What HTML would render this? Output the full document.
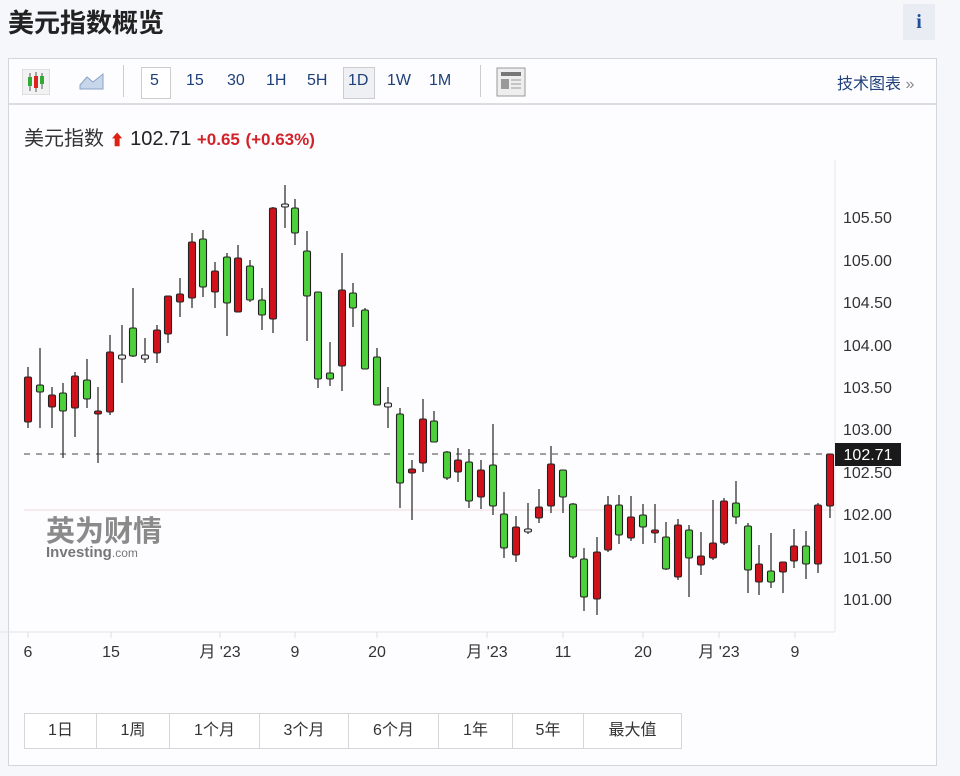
<!DOCTYPE html>
<html><head><meta charset="utf-8"><style>
body{margin:0;width:960px;height:776px;background:#f6f7fb;font-family:"Liberation Sans","Noto Sans CJK SC",sans-serif;overflow:hidden;position:relative}
.t{position:absolute;left:8px;top:3px;font-size:26px;font-weight:bold;color:#222}
.i{position:absolute;left:903px;top:4px;width:32px;height:36px;background:#e9ecf2;color:#1e4f9c;font:bold 20px "Liberation Serif",serif;text-align:center;line-height:36px}
.panel{position:absolute;left:8px;top:58px;width:927px;height:706px;border:1px solid #d4d6da;background:#fdfdff}
.tb{position:absolute;left:0;top:0;width:927px;height:44px;border-bottom:2px solid #dcdde0;background:#fdfdff}
.tb span{position:absolute;top:12px;font-size:16px;color:#1e3f7a}
.btns{position:absolute;left:15px;top:654px;display:flex;border:1px solid #d6d6d6;background:#fff}
.btns div{height:34px;line-height:34px;text-align:center;font-size:16px;color:#333;border-right:1px solid #d6d6d6}
</style></head><body>
<div class="t">美元指数概览</div>
<div class="i">i</div>
<div class="panel">
<div class="tb">
<svg style="position:absolute;left:13px;top:10px" width="28" height="26"><rect x="0" y="0" width="28" height="26" fill="#f2f2f2" stroke="#ccc"/><line x1="8" y1="4" x2="8" y2="22" stroke="#555"/><rect x="6" y="8" width="4" height="9" fill="#3a3"/><line x1="14" y1="3" x2="14" y2="23" stroke="#555"/><rect x="12" y="7" width="4" height="12" fill="#d22"/><line x1="20" y1="4" x2="20" y2="20" stroke="#555"/><rect x="18" y="7" width="4" height="8" fill="#3a3"/></svg>
<svg style="position:absolute;left:70px;top:12px" width="26" height="20"><path d="M1 18 L1 14 L8 6 L14 11 L24 3 L24 18Z" fill="#c7d6ea" stroke="#8aa3c6"/></svg>
<div style="position:absolute;left:114px;top:6px;width:1px;height:32px;background:#ccc"></div>
<div style="position:absolute;left:132px;top:8px;width:28px;height:30px;border:1px solid #ccc;background:#fff"></div>
<span style="left:141px;top:13px">5</span><span style="left:177px;top:13px">15</span><span style="left:218px;top:13px">30</span><span style="left:257px;top:13px">1H</span><span style="left:298px;top:13px">5H</span>
<div style="position:absolute;left:334px;top:8px;width:30px;height:30px;border:1px solid #ccc;background:#eef0f3"></div>
<span style="left:339px;top:13px">1D</span><span style="left:378px;top:13px">1W</span><span style="left:420px;top:13px">1M</span>
<div style="position:absolute;left:471px;top:6px;width:1px;height:32px;background:#ccc"></div>
<svg style="position:absolute;left:487px;top:8px" width="30" height="30"><rect x="1" y="1" width="28" height="28" fill="#eee" stroke="#999"/><rect x="5" y="5" width="20" height="4" fill="#777"/><rect x="5" y="12" width="8" height="10" fill="#999"/><line x1="15" y1="13" x2="25" y2="13" stroke="#999"/><line x1="15" y1="17" x2="25" y2="17" stroke="#999"/><line x1="15" y1="21" x2="25" y2="21" stroke="#999"/></svg>
<span style="left:828px;top:11px;color:#1e3f7a">技术图表 <span style="position:static;color:#888">»</span></span>
</div>
<div style="position:absolute;left:15px;top:63px;font-size:20px;color:#333">美元指数 <span style="color:#d21;font-size:15px">⬆</span> <span style="color:#222">102.71</span> <span style="color:#d2232a;font-size:17px;font-weight:bold">+0.65</span> <span style="color:#d2232a;font-size:17px;font-weight:bold">(+0.63%)</span></div>
<div class="btns"><div style="width:71px">1日</div><div style="width:72px">1周</div><div style="width:89px">1个月</div><div style="width:88px">3个月</div><div style="width:89px">6个月</div><div style="width:73px">1年</div><div style="width:70px">5年</div><div style="width:97px;border:none">最大值</div></div>
</div>
<svg id="c" style="position:absolute;left:0;top:0" width="960" height="776"></svg>
<script>
var s='';
s+='<line x1="0" y1="632" x2="835" y2="632" stroke="#e4e4e4"/>';
s+='<line x1="835" y1="160" x2="835" y2="632" stroke="#e8e8e8"/>';
s+='<line x1="24" y1="510" x2="835" y2="510" stroke="#f0dcdc"/>';
var yl=[[105.5,217],[105,260],[104.5,302],[104,345],[103.5,387],[103,429],[102.5,472],[102,514],[101.5,557],[101,599]];
yl.forEach(function(a){s+='<text x="843" y="'+(a[1]+6)+'" font-size="16" fill="#333" font-family="Liberation Sans">'+a[0].toFixed(2)+'</text>';});
var xl=[[28,'6'],[111,'15'],[220,'月 \'23'],[295,'9'],[377,'20'],[487,'月 \'23'],[563,'11'],[643,'20'],[719,'月 \'23'],[795,'9']];
xl.forEach(function(a){s+='<line x1="'+a[0]+'" y1="632" x2="'+a[0]+'" y2="638" stroke="#ddd"/><text x="'+a[0]+'" y="657" font-size="16" fill="#333" text-anchor="middle" font-family="Liberation Sans,Noto Sans CJK SC,sans-serif">'+a[1]+'</text>';});
s+='<text x="46" y="541" font-size="29" font-weight="bold" fill="#8a8a8a" font-family="Noto Sans CJK SC,sans-serif">英为财情</text><text x="46" y="557" font-size="15" font-weight="bold" fill="#777" font-family="Liberation Sans">Investing<tspan font-size="12" font-weight="normal">.com</tspan></text>';
s+='<line x1="24" y1="454" x2="828" y2="454" stroke="#444" stroke-dasharray="6,6"/>';
var C=[[28,367,428,377,422,'r'],[40,348,428,385,392,'g'],[52,387,428,395,407,'r'],[63,383,458,393,411,'g'],[75,372,437,376,408,'r'],[87,359,408,380,399,'g'],[98,387,463,411,414,'r'],[110,335,415,352,412,'r'],[122,325,383,355,359,'w'],[133,288,357,328,356,'g'],[145,338,363,355,359,'w'],[157,325,363,330,353,'r'],[168,296,343,296,334,'r'],[180,278,317,294,302,'r'],[192,233,308,242,298,'r'],[203,230,297,239,287,'g'],[215,262,308,271,292,'r'],[227,253,336,257,303,'g'],[238,245,312,258,312,'r'],[250,260,302,266,300,'g'],[262,288,330,300,315,'g'],[273,207,333,208,319,'r'],[285,185,228,204,207,'w'],[295,199,245,208,233,'g'],[307,231,341,251,296,'g'],[318,292,388,292,379,'g'],[330,342,386,373,379,'g'],[342,253,391,290,366,'r'],[353,283,327,293,308,'g'],[365,308,369,310,369,'g'],[377,348,405,357,405,'g'],[388,387,428,403,407,'w'],[400,408,508,414,483,'g'],[412,460,520,469,473,'r'],
[423,399,472,419,463,'r'],[434,411,442,421,442,'g'],[447,451,480,452,478,'g'],[458,448,482,460,472,'r'],[469,449,508,462,501,'g'],[481,460,509,470,497,'r'],[493,424,515,465,506,'g'],[504,492,558,514,548,'g'],[516,516,562,527,555,'r'],[528,503,534,529,532,'w'],[539,489,523,507,518,'r'],[551,446,513,464,506,'r'],[563,470,513,470,497,'g'],[573,503,559,504,557,'g'],[584,548,611,559,597,'g'],[597,537,615,552,599,'r'],[608,496,552,505,550,'r'],[619,495,544,505,535,'g'],[631,496,541,517,538,'r'],[643,504,544,515,527,'g'],[655,504,543,530,533,'r'],[666,522,570,537,569,'g'],[678,519,580,525,577,'r'],[689,525,597,530,558,'g'],[701,532,575,556,565,'r'],[713,500,560,543,558,'r'],[724,498,545,501,543,'r'],[736,481,524,503,517,'g'],[748,523,593,526,570,'g'],[759,545,595,564,582,'r'],[771,533,588,571,582,'g'],[783,563,593,562,572,'r'],[794,529,568,546,561,'r'],[806,531,579,546,564,'g'],[818,503,573,505,564,'r'],[830,454,518,454,506,'r']];
C.forEach(function(c){var f=c[5]=='r'?'#d0111b':c[5]=='g'?'#4cd13a':'#eee';
s+='<line x1="'+c[0]+'" y1="'+c[1]+'" x2="'+c[0]+'" y2="'+c[2]+'" stroke="#333" stroke-width="1.3"/>';
var h=Math.max(c[4]-c[3],3);s+='<rect x="'+(c[0]-3.5)+'" y="'+c[3]+'" width="7" height="'+h+'" rx="1.5" fill="'+f+'" stroke="#222" stroke-width="1.1"/>';});
s+='<rect x="835" y="443" width="66" height="23" fill="#1a1a1a"/><text x="868" y="460" font-size="16" fill="#fff" text-anchor="middle" font-family="Liberation Sans">102.71</text>';
document.getElementById('c').innerHTML=s;
</script>
</body></html>
